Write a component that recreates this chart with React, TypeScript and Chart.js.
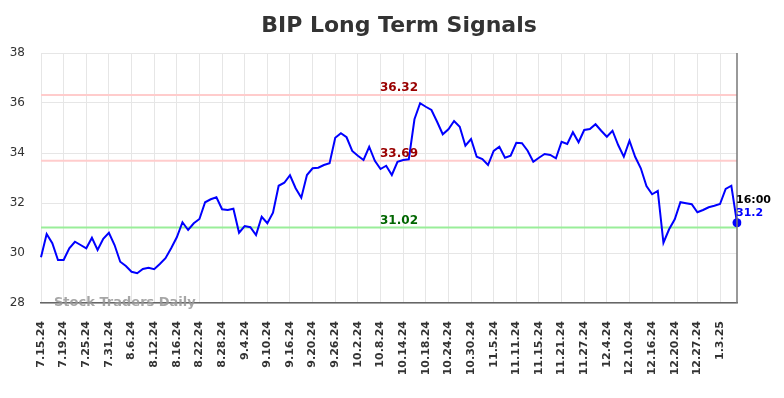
import React, { useEffect, useRef } from "react";
import { Chart, registerables } from "chart.js";

Chart.register(...registerables);

const dates: string[] = [
  "7.15.24", "7.16.24", "7.17.24", "7.18.24", "7.19.24", "7.22.24", "7.23.24", "7.24.24",
  "7.25.24", "7.26.24", "7.29.24", "7.30.24", "7.31.24", "8.1.24", "8.2.24", "8.5.24",
  "8.6.24", "8.7.24", "8.8.24", "8.9.24", "8.12.24", "8.13.24", "8.14.24", "8.15.24",
  "8.16.24", "8.19.24", "8.20.24", "8.21.24", "8.22.24", "8.23.24", "8.26.24", "8.27.24",
  "8.28.24", "8.29.24", "8.30.24", "9.3.24", "9.4.24", "9.5.24", "9.6.24", "9.9.24",
  "9.10.24", "9.11.24", "9.12.24", "9.13.24", "9.16.24", "9.17.24", "9.18.24", "9.19.24",
  "9.20.24", "9.23.24", "9.24.24", "9.25.24", "9.26.24", "9.27.24", "9.30.24", "10.1.24",
  "10.2.24", "10.3.24", "10.4.24", "10.7.24", "10.8.24", "10.9.24", "10.10.24", "10.11.24",
  "10.14.24", "10.15.24", "10.16.24", "10.17.24", "10.18.24", "10.21.24", "10.22.24", "10.23.24",
  "10.24.24", "10.25.24", "10.28.24", "10.29.24", "10.30.24", "10.31.24", "11.1.24", "11.4.24",
  "11.5.24", "11.6.24", "11.7.24", "11.8.24", "11.11.24", "11.12.24", "11.13.24", "11.14.24",
  "11.15.24", "11.18.24", "11.19.24", "11.20.24", "11.21.24", "11.22.24", "11.25.24", "11.26.24",
  "11.27.24", "11.29.24", "12.2.24", "12.3.24", "12.4.24", "12.5.24", "12.6.24", "12.9.24",
  "12.10.24", "12.11.24", "12.12.24", "12.13.24", "12.16.24", "12.17.24", "12.18.24", "12.19.24",
  "12.20.24", "12.23.24", "12.24.24", "12.26.24", "12.27.24", "12.30.24", "12.31.24", "1.2.25",
  "1.3.25", "1.6.25", "1.7.25", "1.8.25",
];

const prices: number[] = [
  29.83, 30.76, 30.39, 29.72, 29.72, 30.19, 30.45, 30.32,
  30.19, 30.61, 30.12, 30.57, 30.81, 30.32, 29.65, 29.48,
  29.25, 29.19, 29.36, 29.41, 29.35, 29.56, 29.79, 30.19,
  30.63, 31.23, 30.92, 31.19, 31.36, 32.03, 32.15, 32.23,
  31.75, 31.72, 31.77, 30.81, 31.08, 31.03, 30.72, 31.45,
  31.19, 31.61, 32.69, 32.81, 33.11, 32.59, 32.21, 33.12,
  33.39, 33.41, 33.52, 33.59, 34.61, 34.79, 34.63, 34.08,
  33.89, 33.72, 34.25, 33.69, 33.36, 33.49, 33.12, 33.65,
  33.72, 33.75, 35.35, 35.99, 35.85, 35.72, 35.25, 34.75,
  34.95, 35.28, 35.05, 34.29, 34.56, 33.85, 33.76, 33.52,
  34.08, 34.25, 33.81, 33.89, 34.41, 34.39, 34.09, 33.65,
  33.81, 33.96, 33.92, 33.79, 34.45, 34.36, 34.83, 34.43,
  34.92, 34.96, 35.15, 34.89, 34.65, 34.89, 34.32, 33.85,
  34.49, 33.85, 33.39, 32.68, 32.35, 32.48, 30.41, 30.95,
  31.35, 32.03, 31.99, 31.95, 31.63, 31.72, 31.83, 31.89,
  31.96, 32.56, 32.69, 31.21,
];

const levelValues: number[] = [36.32, 33.69, 31.02];
const levelLineColors: string[] = ["#ffcccc", "#ffcccc", "#99ee99"];
const levelTextColors: string[] = ["#990000", "#990000", "#006600"];
const yMin = 28;
const yMax = 38;
const yStep = 2;
const titleText = "BIP Long Term Signals";
const lastTimeLabel = "16:00";
const watermarkText = "Stock Traders Daily";
const tickEvery = 4;

const FONT = '"DejaVu Sans", sans-serif';

const overlayPlugin = {
  id: "overlay",
  beforeDatasetsDraw(chart: any) {
    const { ctx, chartArea, scales } = chart;
    ctx.save();
    levelValues.forEach((lv, i) => {
      const py = scales.y.getPixelForValue(lv);
      ctx.strokeStyle = levelLineColors[i];
      ctx.lineWidth = 2;
      ctx.beginPath();
      ctx.moveTo(chartArea.left, py);
      ctx.lineTo(chartArea.right, py);
      ctx.stroke();
    });
    ctx.restore();
  },
  afterDatasetsDraw(chart: any) {
    const { ctx, chartArea, scales } = chart;
    ctx.save();
    ctx.font = `bold 12px ${FONT}`;
    ctx.textAlign = "center";
    ctx.textBaseline = "alphabetic";
    const cx = (chartArea.left + chartArea.right) / 2 + 10;
    levelValues.forEach((lv, i) => {
      const py = scales.y.getPixelForValue(lv);
      ctx.fillStyle = levelTextColors[i];
      ctx.fillText(lv.toFixed(2), cx, py - 4);
    });
    ctx.strokeStyle = "#777777";
    ctx.lineWidth = 1.5;
    ctx.beginPath();
    ctx.moveTo(chartArea.right, chartArea.top);
    ctx.lineTo(chartArea.right, chartArea.bottom);
    ctx.stroke();
    const meta = chart.getDatasetMeta(0);
    const last = meta.data[meta.data.length - 1];
    const lastVal = prices[prices.length - 1];
    ctx.textAlign = "left";
    ctx.font = `bold 11px ${FONT}`;
    ctx.fillStyle = "#000000";
    ctx.fillText(lastTimeLabel, last.x - 1, last.y - 19.5);
    ctx.fillStyle = "#0000ff";
    ctx.fillText(lastVal.toFixed(1), last.x - 1, last.y - 6.5);
    ctx.font = `bold 13px ${FONT}`;
    ctx.fillStyle = "rgba(150,150,150,0.85)";
    ctx.textBaseline = "middle";
    ctx.fillText(watermarkText, chartArea.left + 13, chartArea.bottom);
    ctx.font = `bold 22px ${FONT}`;
    ctx.fillStyle = "#333333";
    ctx.textAlign = "center";
    ctx.textBaseline = "middle";
    ctx.fillText(titleText, chart.width / 2 + 7, 26);
    ctx.restore();
  },
};

export default function App() {
  const ref = useRef<HTMLCanvasElement | null>(null);
  useEffect(() => {
    if (!ref.current) return;
    const lastIdx = prices.length - 1;
    const chart = new Chart(ref.current, {
      type: "line",
      data: {
        labels: dates,
        datasets: [
          {
            data: prices,
            borderColor: "#0000ff",
            backgroundColor: "#0000ff",
            borderWidth: 2,
            tension: 0,
            pointRadius: (c: any) => (c.dataIndex === lastIdx ? 4.5 : 0),
            pointHoverRadius: 0,
            pointBackgroundColor: "#0000ff",
            pointBorderWidth: 0,
          },
        ],
      },
      options: {
        animation: false,
        responsive: false,
        events: [],
        layout: { padding: { top: 53, right: 47, left: 0, bottom: 0 } },
        plugins: {
          legend: { display: false },
          title: { display: false },
          tooltip: { enabled: false },
        },
        scales: {
          x: {
            type: "category",
            offset: false,
            afterBuildTicks: (scale: any) => {
              scale.ticks = scale.ticks.filter((_t: any, i: number) => i % tickEvery === 0);
            },
            afterFit: (scale: any) => {
              scale.height = 95;
            },
            grid: { color: "#e6e6e6", lineWidth: 1, drawTicks: false },
            border: { display: true, color: "#666666", width: 1.5 },
            ticks: {
              autoSkip: false,
              maxRotation: 90,
              minRotation: 90,
              padding: 18,
              color: "#333333",
              font: { family: FONT, size: 11, weight: "bold" },
            },
          },
          y: {
            min: yMin,
            max: yMax,
            afterFit: (scale: any) => {
              scale.width = 41;
            },
            grid: { color: "#e6e6e6", lineWidth: 1, drawTicks: false },
            border: { display: false },
            ticks: {
              stepSize: yStep,
              padding: 16,
              color: "#333333",
              font: { family: FONT, size: 12 },
            },
          },
        },
      },
      plugins: [overlayPlugin],
    } as any);
    return () => chart.destroy();
  }, []);
  return (
    <div style={{ position: "absolute", left: 0, top: 0, width: 784, height: 398, background: "#ffffff" }}>
      <canvas ref={ref} width={784} height={398} style={{ display: "block" }} />
    </div>
  );
}
